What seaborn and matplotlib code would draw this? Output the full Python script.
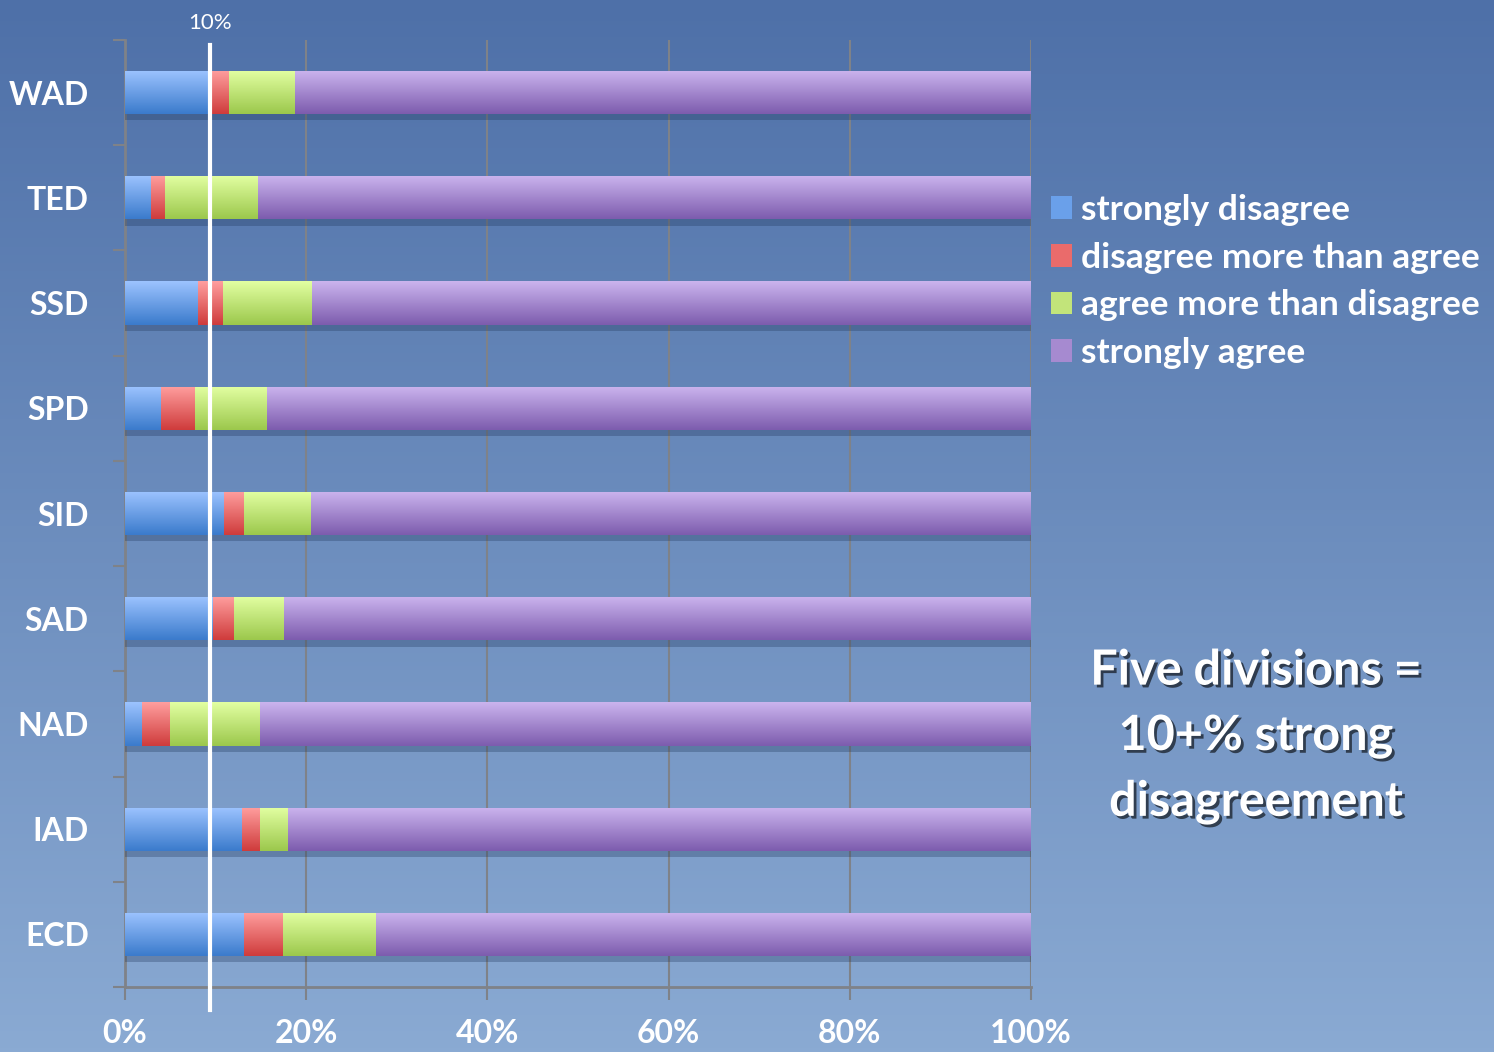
import numpy as np
import pandas as pd
import seaborn as sns
from matplotlib import pyplot as plt
from matplotlib import patheffects as pe
from matplotlib.colors import LinearSegmentedColormap
from matplotlib.patches import Patch, Rectangle

categories = ["WAD", "TED", "SSD", "SPD", "SID", "SAD", "NAD", "IAD", "ECD"]
strongly_disagree = [9.6, 2.8, 8.0, 3.9, 10.9, 9.7, 1.8, 12.9, 13.1]
disagree_more = [1.8, 1.6, 2.8, 3.8, 2.2, 2.3, 3.1, 2.0, 4.3]
agree_more = [7.3, 10.2, 9.8, 7.9, 7.4, 5.5, 9.9, 3.0, 10.3]
strongly_agree = [81.3, 85.4, 79.4, 84.4, 79.5, 82.5, 85.2, 82.1, 72.3]
series_names = ["strongly disagree", "disagree more than agree",
                "agree more than disagree", "strongly agree"]
x_ticks = [0, 20, 40, 60, 80, 100]
x_tick_labels = ["0%", "20%", "40%", "60%", "80%", "100%"]
marker_value = 9.4
marker_label = "10%"
note = "Five divisions =\n10+% strong\ndisagreement"

# (top, bottom) of the vertical gradient for each series
grads = [("#9cc3ff", "#3b7bcc"), ("#ff9e9e", "#cf3c3c"),
         ("#e2ffa2", "#9cc84c"), ("#cbb4ee", "#7d5cae")]
mid = ["#6aa0ea", "#ea6b6b", "#c2e47a", "#a68ad0"]

df = pd.DataFrame({"cat": categories, "s1": strongly_disagree, "s2": disagree_more,
                   "s3": agree_more, "s4": strongly_agree})
cols = ["s1", "s2", "s3", "s4"]
cum = df[cols].cumsum(axis=1)

plt.rcParams["font.family"] = ["Lato", "DejaVu Sans"]
fig = plt.figure(figsize=(14.94, 10.52), dpi=100)

# background gradient
bg = fig.add_axes([0, 0, 1, 1], zorder=-10)
bg_cmap = LinearSegmentedColormap.from_list("bg", ["#4e70a8", "#8aaad3"])
bg.imshow(np.linspace(0, 1, 256).reshape(-1, 1), aspect="auto", cmap=bg_cmap,
          extent=[0, 1, 0, 1], origin="upper")
bg.set_axis_off()

ax = fig.add_axes([125 / 1494, 1 - 987 / 1052, 906 / 1494, 947 / 1052])
ax.patch.set_alpha(0)

for i in range(3, -1, -1):
    n_before = len(ax.patches)
    sns.barplot(x=cum[cols[i]], y=df["cat"], color=mid[i], width=0.41,
                saturation=1, ax=ax, zorder=3 + (3 - i) * 2, orient="h")
    cmap = LinearSegmentedColormap.from_list("g%d" % i, [grads[i][0], grads[i][1]])
    for p in ax.patches[n_before:]:
        x0, y0 = p.get_x(), p.get_y()
        w, h = p.get_width(), p.get_height()
        im = ax.imshow(np.linspace(0, 1, 64).reshape(-1, 1), cmap=cmap, aspect="auto",
                       extent=[x0, x0 + w, y0 + h, y0], origin="upper",
                       zorder=4 + (3 - i) * 2)
        im.set_clip_path(p)
        if i == 3:
            ax.add_patch(Rectangle((x0, y0 + h), w, 0.06, color="#1e3458", alpha=0.3,
                                   lw=0, zorder=2))

ax.set_xlim(0, 100)
ax.set_ylim(8.5, -0.5)
ax.set_xlabel("")
ax.set_ylabel("")

gray = "#7f8288"
for s in ["top", "right"]:
    ax.spines[s].set_visible(False)
for s in ["left", "bottom"]:
    ax.spines[s].set_color(gray)
    ax.spines[s].set_linewidth(2)
    ax.spines[s].set_zorder(1)

ax.set_xticks(x_ticks)
ax.set_xticklabels(x_tick_labels)
ax.tick_params(axis="x", length=9, width=1.5, color=gray, pad=14,
               labelsize=23, labelcolor="white")
for t in ax.get_xticklabels():
    t.set_fontweight("bold")
ax.set_yticks(np.arange(-0.5, 9, 1), minor=True)
ax.tick_params(axis="y", which="minor", length=9, width=1.5, color=gray)
ax.tick_params(axis="y", which="major", length=0, pad=26, labelsize=23,
               labelcolor="white")
for t in ax.get_yticklabels():
    t.set_fontweight("bold")
ax.grid(axis="x", color=gray, lw=1.5, zorder=1)
ax.set_axisbelow(True)

# 10% reference line
trans = ax.get_xaxis_transform()
ax.plot([marker_value, marker_value], [-0.024, 0.995], transform=trans, color="white",
        lw=3, clip_on=False, zorder=20)
ax.text(marker_value, 1.018, marker_label, transform=trans, ha="center", va="center",
        color="white", fontsize=16)

handles = [Patch(facecolor=mid[i], edgecolor="none") for i in range(4)]
leg = fig.legend(handles, series_names, loc="upper left",
                 bbox_to_anchor=(1037 / 1494, 1 - 180 / 1052), frameon=False,
                 fontsize=25.5, handlelength=0.6, handleheight=0.6, handletextpad=0.25,
                 labelspacing=0.44, borderaxespad=0)
for t in leg.get_texts():
    t.set_color("white")
    t.set_fontweight("bold")

fig.text(1256 / 1494, 1 - 736 / 1052, note, ha="center", va="center", color="white",
         fontsize=35, fontweight="bold", linespacing=1.55,
         path_effects=[pe.withSimplePatchShadow(offset=(2, -2), shadow_rgbFace="black",
                                                alpha=0.6)])

fig.savefig("out.png", dpi=100)
